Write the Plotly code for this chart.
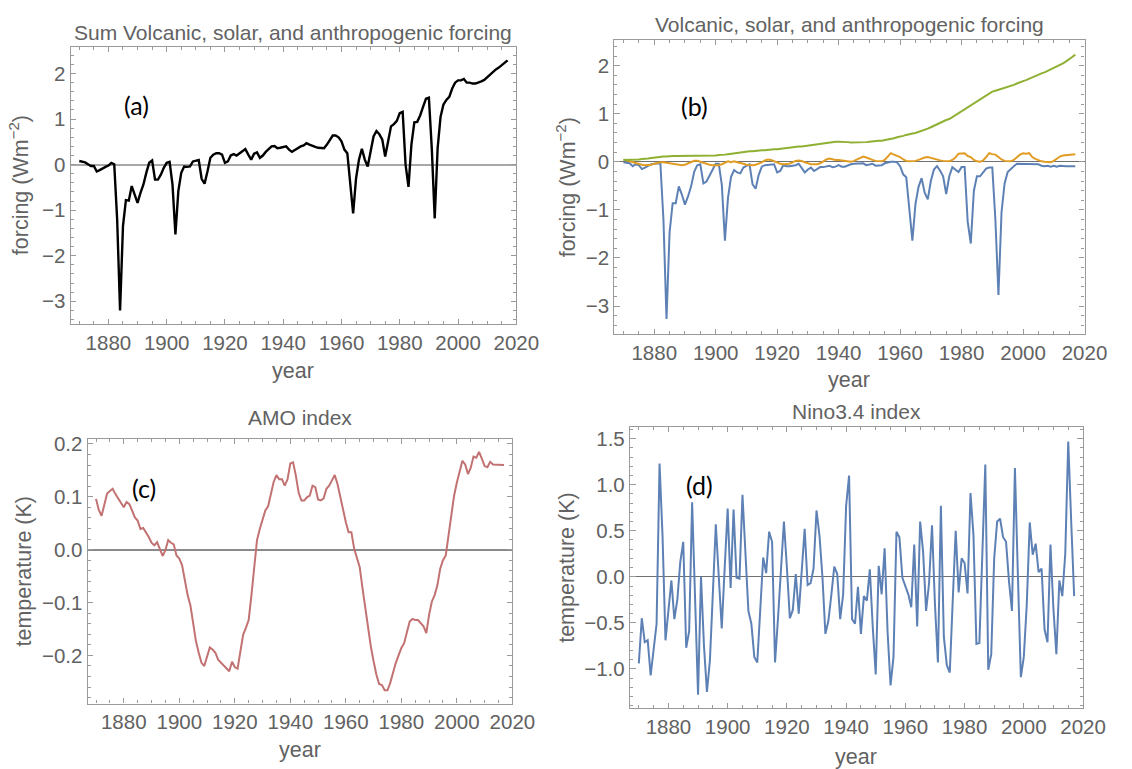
import plotly.graph_objects as go

# ---------------- data ----------------
years = list(range(1870, 2018))

sum_forcing = [
    0.08, 0.07, 0.05, 0.01, -0.03, -0.03, -0.15, -0.12, -0.08, -0.05,
    -0.02, 0.04, 0.01, -1.20, -3.20, -1.35, -0.78, -0.79, -0.47, -0.64,
    -0.84, -0.62, -0.44, -0.18, 0.04, 0.09, -0.33, -0.33, -0.22, -0.07,
    0.04, 0.06, -0.44, -1.53, -0.58, -0.18, -0.04, -0.05, -0.04, 0.07,
    0.09, 0.10, -0.31, -0.42, -0.15, 0.15, 0.22, 0.25, 0.25, 0.22,
    0.04, 0.07, 0.20, 0.23, 0.20, 0.25, 0.29, 0.34, 0.22, 0.11,
    0.24, 0.27, 0.15, 0.20, 0.28, 0.33, 0.40, 0.41, 0.36, 0.37,
    0.39, 0.40, 0.33, 0.28, 0.32, 0.36, 0.40, 0.42, 0.47, 0.44,
    0.41, 0.39, 0.37, 0.36, 0.36, 0.44, 0.55, 0.64, 0.64, 0.60,
    0.51, 0.33, 0.25, -0.40, -1.07, -0.30, 0.11, 0.35, 0.11, -0.04,
    0.31, 0.62, 0.74, 0.67, 0.55, 0.18, 0.51, 0.84, 0.89, 0.96,
    1.13, 1.16, 0.00, -0.49, 0.44, 0.93, 0.94, 1.08, 1.27, 1.45,
    1.47, 0.35, -1.18, 0.36, 1.05, 1.32, 1.42, 1.49, 1.67, 1.80,
    1.85, 1.85, 1.88, 1.80, 1.80, 1.78, 1.78, 1.80, 1.83, 1.86,
    1.92, 1.98, 2.04, 2.09, 2.13, 2.18, 2.23, 2.29,
]

volcanic = [
    -0.01, -0.02, -0.03, -0.09, -0.05, -0.07, -0.15, -0.12, -0.09, -0.05,
    -0.04, -0.03, -0.03, -1.20, -3.27, -1.47, -0.86, -0.86, -0.51, -0.68,
    -0.89, -0.72, -0.51, -0.21, -0.07, -0.05, -0.45, -0.41, -0.29, -0.14,
    -0.04, -0.04, -0.48, -1.64, -0.75, -0.31, -0.17, -0.22, -0.24, -0.12,
    -0.08, -0.05, -0.47, -0.56, -0.27, -0.10, -0.07, -0.06, -0.05, -0.05,
    -0.22, -0.19, -0.07, -0.09, -0.09, -0.08, -0.07, -0.04, -0.12, -0.22,
    -0.16, -0.12, -0.19, -0.15, -0.11, -0.11, -0.10, -0.08, -0.11, -0.10,
    -0.07, -0.10, -0.10, -0.07, -0.05, -0.04, -0.04, -0.04, -0.03, -0.07,
    -0.05, -0.04, -0.08, -0.08, -0.07, -0.03, -0.01, 0.00, 0.00, -0.01,
    -0.09, -0.26, -0.32, -0.95, -1.64, -0.88, -0.52, -0.34, -0.64, -0.78,
    -0.40, -0.16, -0.09, -0.18, -0.30, -0.67, -0.30, -0.11, -0.16, -0.21,
    -0.11, -0.11, -1.25, -1.70, -0.60, -0.30, -0.30, -0.21, -0.14, -0.12,
    -0.12, -1.20, -2.77, -1.05, -0.45, -0.21, -0.14, -0.09, -0.04, -0.04,
    -0.04, -0.04, -0.04, -0.05, -0.05, -0.05, -0.08, -0.09, -0.08, -0.10,
    -0.08, -0.10, -0.08, -0.09, -0.09, -0.09, -0.09, -0.09,
]

solar = [
    0.05, 0.03, 0.01, -0.01, -0.03, -0.05, -0.06, -0.07, -0.07, -0.06,
    -0.04, -0.02, -0.01, -0.01, -0.02, -0.03, -0.05, -0.06, -0.07, -0.07,
    -0.06, -0.03, 0.00, 0.02, 0.02, 0.00, -0.03, -0.05, -0.06, -0.07,
    -0.07, -0.07, -0.05, -0.02, 0.01, -0.01, 0.01, -0.01, -0.02, -0.04,
    -0.06, -0.07, -0.07, -0.06, -0.04, -0.01, 0.03, 0.05, 0.04, 0.01,
    -0.02, -0.04, -0.05, -0.05, -0.04, -0.01, 0.02, 0.03, 0.02, -0.01,
    -0.03, -0.05, -0.05, -0.05, -0.03, 0.01, 0.05, 0.07, 0.05, 0.04,
    0.04, 0.03, 0.02, 0.01, 0.00, 0.02, 0.05, 0.09, 0.11, 0.09,
    0.06, 0.04, 0.02, 0.01, 0.01, 0.04, 0.12, 0.18, 0.15, 0.13,
    0.10, 0.05, 0.02, 0.01, 0.01, 0.02, 0.04, 0.07, 0.09, 0.10,
    0.08, 0.06, 0.05, 0.03, 0.02, 0.01, 0.01, 0.04, 0.09, 0.17,
    0.18, 0.18, 0.12, 0.10, 0.04, 0.01, 0.00, 0.03, 0.10, 0.18,
    0.16, 0.15, 0.10, 0.05, 0.02, 0.01, 0.01, 0.04, 0.09, 0.15,
    0.18, 0.17, 0.18, 0.10, 0.06, 0.03, 0.01, 0.00, -0.01, -0.01,
    0.02, 0.07, 0.11, 0.13, 0.14, 0.14, 0.15, 0.16,
]

anthropogenic = [
    0.04, 0.04, 0.04, 0.05, 0.05, 0.05, 0.06, 0.06, 0.07, 0.08,
    0.09, 0.10, 0.10, 0.11, 0.11, 0.12, 0.12, 0.12, 0.12, 0.12,
    0.12, 0.12, 0.12, 0.12, 0.12, 0.12, 0.12, 0.12, 0.12, 0.13,
    0.13, 0.14, 0.14, 0.15, 0.16, 0.17, 0.17, 0.18, 0.19, 0.20,
    0.21, 0.22, 0.22, 0.23, 0.23, 0.24, 0.24, 0.25, 0.25, 0.26,
    0.26, 0.27, 0.28, 0.28, 0.29, 0.30, 0.31, 0.32, 0.32, 0.33,
    0.34, 0.35, 0.35, 0.36, 0.37, 0.38, 0.39, 0.40, 0.41, 0.42,
    0.42, 0.42, 0.41, 0.41, 0.40, 0.40, 0.40, 0.40, 0.41, 0.41,
    0.42, 0.43, 0.43, 0.44, 0.44, 0.45, 0.46, 0.47, 0.49, 0.51,
    0.52, 0.54, 0.56, 0.58, 0.59, 0.60, 0.62, 0.64, 0.66, 0.69,
    0.72, 0.75, 0.78, 0.82, 0.85, 0.87, 0.89, 0.93, 0.97, 1.01,
    1.05, 1.09, 1.13, 1.17, 1.21, 1.25, 1.29, 1.33, 1.38, 1.42,
    1.46, 1.48, 1.50, 1.51, 1.53, 1.55, 1.57, 1.60, 1.63, 1.66,
    1.68, 1.70, 1.73, 1.76, 1.78, 1.81, 1.84, 1.86, 1.89, 1.92,
    1.95, 1.98, 2.01, 2.05, 2.09, 2.13, 2.18, 2.23,
]

amo = [
    0.096, 0.075, 0.064, 0.086, 0.106, 0.111, 0.115, 0.105, 0.096, 0.088,
    0.080, 0.090, 0.086, 0.074, 0.061, 0.055, 0.039, 0.041, 0.033, 0.024,
    0.013, 0.008, 0.014, 0.002, -0.012, -0.001, 0.018, 0.013, 0.010, -0.011,
    -0.017, -0.029, -0.061, -0.086, -0.105, -0.136, -0.173, -0.195, -0.214, -0.220,
    -0.202, -0.185, -0.189, -0.195, -0.208, -0.214, -0.218, -0.225, -0.230, -0.212,
    -0.222, -0.225, -0.195, -0.161, -0.148, -0.133, -0.086, -0.036, 0.018, 0.039,
    0.058, 0.074, 0.082, 0.105, 0.128, 0.141, 0.133, 0.133, 0.121, 0.133,
    0.163, 0.165, 0.140, 0.108, 0.093, 0.093, 0.099, 0.102, 0.121, 0.118,
    0.095, 0.093, 0.097, 0.115, 0.121, 0.131, 0.141, 0.124, 0.099, 0.074,
    0.052, 0.033, 0.033, 0.002, -0.017, -0.033, -0.073, -0.111, -0.151, -0.183,
    -0.211, -0.236, -0.254, -0.256, -0.266, -0.266, -0.252, -0.230, -0.214, -0.200,
    -0.186, -0.177, -0.158, -0.136, -0.131, -0.133, -0.133, -0.139, -0.145, -0.158,
    -0.123, -0.098, -0.086, -0.067, -0.036, -0.020, -0.011, 0.027, 0.064, 0.102,
    0.127, 0.149, 0.168, 0.161, 0.143, 0.155, 0.176, 0.174, 0.185, 0.172,
    0.158, 0.156, 0.166, 0.161, 0.161, 0.160, 0.160, 0.160,
]

nino34 = [
    -0.94, -0.45, -0.71, -0.69, -1.07, -0.78, -0.51, 1.23, 0.45, -0.69,
    -0.38, -0.04, -0.46, -0.25, 0.16, 0.38, -0.77, -0.59, 0.81, -0.20,
    -1.28, 0.00, -0.75, -1.25, -0.91, -0.18, 0.57, 0.00, -0.56, 0.10,
    0.74, -0.12, 0.73, -0.01, -0.02, 0.89, 0.18, -0.37, -0.51, -0.87,
    -0.93, -0.35, 0.21, 0.04, 0.49, 0.38, -0.93, -0.45, 0.05, 0.60,
    0.10, -0.45, -0.36, 0.03, -0.40, 0.10, 0.52, -0.09, -0.07, 0.09,
    0.72, 0.45, 0.00, -0.62, -0.48, -0.20, 0.11, 0.03, -0.46, -0.19,
    0.77, 1.10, -0.46, -0.51, -0.11, -0.62, -0.21, -0.26, 0.08, -0.55,
    -1.06, 0.12, -0.19, 0.31, -0.60, -1.18, -0.87, 0.49, 0.43, -0.01,
    -0.09, -0.19, -0.33, 0.35, -0.54, 0.60, 0.27, -0.37, -0.07, 0.56,
    -0.30, -0.93, 0.77, -0.65, -0.96, -1.04, -0.26, 0.50, -0.17, 0.20,
    0.15, -0.18, 0.91, 0.45, -0.73, -0.72, 0.25, 1.22, -1.01, -0.84,
    0.20, 0.60, 0.63, 0.43, 0.38, -0.05, -0.37, 1.18, 0.02, -1.09,
    -0.87, -0.30, 0.59, 0.24, 0.36, 0.05, 0.09, -0.57, -0.71, 0.35,
    -0.35, -0.84, -0.04, -0.21, 0.25, 1.47, 0.60, -0.21,
]

x_ticks = [1880, 1900, 1920, 1940, 1960, 1980, 2000, 2020]
forcing_ticks = [-3, -2, -1, 0, 1, 2]
amo_ticks = [-0.2, -0.1, 0.0, 0.1, 0.2]
nino_ticks = [-1.0, -0.5, 0.0, 0.5, 1.0, 1.5]

titles = ["Sum Volcanic, solar, and anthropogenic forcing",
          "Volcanic, solar, and anthropogenic forcing",
          "AMO index", "Nino3.4 index"]
panel_labels = ["(a)", "(b)", "(c)", "(d)"]

# ---------------- styling / layout ----------------
W, H = 1132, 769
FONT = "Liberation Sans, Arial, sans-serif"
TXT = "#626262"
FRAME = "#9a9a9a"

BLUE = "#5E81B5"
ORANGE = "#E19C24"
GREEN = "#8FB032"
RED = "#C27272"

# pixel boxes of the plot frames: (left, right, top, bottom)
boxes = [(72, 527, 41, 321), (627, 1107, 34, 331),
         (89.5, 523, 436, 703), (643, 1105.5, 424, 708)]
yranges = [(-3.51, 2.59), (-3.59, 2.54), (-0.291, 0.210), (-1.43, 1.63)]
ytick_sets = [forcing_ticks, forcing_ticks, amo_ticks, nino_ticks]
yminor = [0.2, 0.2, 0.02, 0.1]
zero_styles = [("#a8a8a8", 2.0), ("#707070", 1.3), ("#8a8a8a", 1.6), ("#707070", 1.3)]

TICK_FS = 20.5
TITLE_FS = 21
AXT_FS = 21.5


def fmt(v, dec):
    s = f"{abs(v):.{dec}f}"
    return ("\u2212" + s) if v < 0 else s


fig = go.Figure()


def add(trace, i):
    trace.update(xaxis="x" if i == 0 else f"x{i+1}", yaxis="y" if i == 0 else f"y{i+1}")
    fig.add_trace(trace)


add(go.Scatter(x=years, y=sum_forcing, mode="lines", line=dict(color="black", width=2.4)), 0)
add(go.Scatter(x=years, y=volcanic, mode="lines", line=dict(color=BLUE, width=2)), 1)
add(go.Scatter(x=years, y=solar, mode="lines", line=dict(color=ORANGE, width=2)), 1)
add(go.Scatter(x=years, y=anthropogenic, mode="lines", line=dict(color=GREEN, width=2)), 1)
add(go.Scatter(x=years, y=amo, mode="lines", line=dict(color=RED, width=2)), 2)
add(go.Scatter(x=years, y=nino34, mode="lines", line=dict(color=BLUE, width=2)), 3)

layout = dict(width=W, height=H, margin=dict(l=0, r=0, t=0, b=0),
              paper_bgcolor="white", plot_bgcolor="white", showlegend=False,
              font=dict(family=FONT, color=TXT, size=TICK_FS))

annotations = []
for i, (l, r, t, b) in enumerate(boxes):
    sfx = "" if i == 0 else str(i + 1)
    dec = 0 if i < 2 else 1
    layout["xaxis" + sfx] = dict(
        domain=[l / W, r / W], range=[1867, 2020], anchor="y" + sfx,
        tickmode="array", tickvals=x_ticks, ticktext=[str(v) for v in x_ticks],
        ticks="inside", ticklen=5.5, tickwidth=1, tickcolor=FRAME,
        showline=True, linecolor=FRAME, linewidth=1.2, mirror="allticks",
        showgrid=False, zeroline=False,
        tickfont=dict(size=TICK_FS, color=TXT, family=FONT),
        minor=dict(tickmode="linear", tick0=1865, dtick=5, ticks="inside",
                   ticklen=3, tickcolor=FRAME, showgrid=False),
    )
    yt = ytick_sets[i]
    zc, zw = zero_styles[i]
    layout["yaxis" + sfx] = dict(
        domain=[1 - b / H, 1 - t / H], range=list(yranges[i]), anchor="x" + sfx,
        tickmode="array", tickvals=yt, ticktext=[fmt(v, dec) for v in yt],
        ticks="inside", ticklen=5.5, tickwidth=1, tickcolor=FRAME,
        showline=True, linecolor=FRAME, linewidth=1.2, mirror="allticks",
        showgrid=False, zeroline=True, zerolinecolor=zc, zerolinewidth=zw,
        tickfont=dict(size=TICK_FS, color=TXT, family=FONT),
        minor=dict(tickmode="linear", tick0=0, dtick=yminor[i], ticks="inside",
                   ticklen=3, tickcolor=FRAME, showgrid=False),
    )

# panel titles
title_y = [27, 19, 415, 409]
for i, (l, r, t, b) in enumerate(boxes):
    annotations.append(dict(text=titles[i], xref="paper", yref="paper",
                            x=(l + r) / 2 / W, y=1 - title_y[i] / H,
                            xanchor="center", yanchor="middle", showarrow=False,
                            font=dict(size=TITLE_FS, color=TXT, family=FONT)))

# x-axis titles
xt_y = [368, 377, 750, 757]
for i, (l, r, t, b) in enumerate(boxes):
    annotations.append(dict(text="year", xref="paper", yref="paper",
                            x=(l + r) / 2 / W, y=1 - xt_y[i] / H,
                            xanchor="center", yanchor="middle", showarrow=False,
                            font=dict(size=AXT_FS, color=TXT, family=FONT)))

# y-axis titles
yt_x = [19, 578, 25, 578]
ytitles = ["forcing (Wm<sup>\u22122</sup>)", "forcing (Wm<sup>\u22122</sup>)",
           "temperature (K)", "temperature (K)"]
for i, (l, r, t, b) in enumerate(boxes):
    annotations.append(dict(text=ytitles[i], xref="paper", yref="paper",
                            x=yt_x[i] / W, y=1 - (t + b) / 2 / H, textangle=-90,
                            xanchor="center", yanchor="middle", showarrow=False,
                            font=dict(size=AXT_FS, color=TXT, family=FONT)))

# panel labels (placed in data coordinates)
label_pos = [(1889.5, 1.31), (1893, 1.17), (1887.3, 0.116), (1890.6, 1.0)]
for i, (lx, ly) in enumerate(label_pos):
    sfx = "" if i == 0 else str(i + 1)
    annotations.append(dict(text=panel_labels[i], xref="x" + sfx, yref="y" + sfx,
                            x=lx, y=ly, xanchor="center", yanchor="middle",
                            showarrow=False,
                            font=dict(size=25, color="black", family="Lato, Carlito, sans-serif")))

layout["annotations"] = annotations
fig.update_layout(**layout)

fig.write_html("out.html", config={"displayModeBar": False},
               post_script="document.body.style.margin='0';document.body.style.overflow='hidden';")
